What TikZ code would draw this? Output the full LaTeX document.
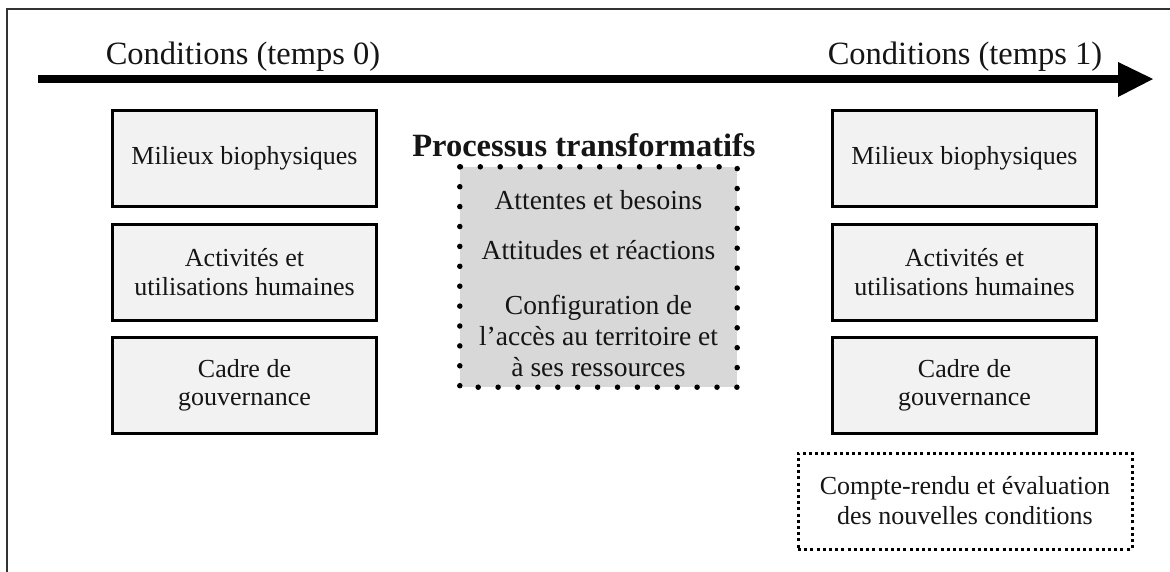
\documentclass[tikz,border=0pt]{standalone}
\usepackage{fontspec}
\setmainfont{Liberation Serif}
\begin{document}
\begin{tikzpicture}[x=1pt,y=-1pt,
  condbox/.style={draw=black,line width=3pt,fill=boxgray,minimum width=264pt,minimum height=96pt,inner sep=0pt,align=center,text=txt,font=\fontsize{26}{28.5}\selectfont},
  inner/.style={align=center,text=txt,font=\fontsize{27.5}{31}\selectfont},
  head/.style={text=txt,font=\fontsize{32.5}{30}\selectfont,anchor=base}]
\definecolor{boxgray}{HTML}{F2F2F2}
\definecolor{procgray}{HTML}{D8D8D8}
\definecolor{txt}{HTML}{151515}
\definecolor{frame}{HTML}{333333}
\useasboundingbox (0,0) rectangle (1170,571);
% frame (top and left edges)
\coordinate (fbl) at (7,575);
\coordinate (ftl) at (7,9);
\coordinate (ftr) at (1175,9);
\draw[frame,line width=1.6pt] (fbl) -- (ftl) -- (ftr);
% time arrow
\coordinate (as) at (38,79);
\coordinate (ab) at (1118,79);
\coordinate (at) at (1153,79);
\coordinate (ahu) at (1118,62);
\coordinate (ahd) at (1118,97);
\draw[black,line width=8pt] (as) -- (ab);
\fill[black] (ahu) -- (at) -- (ahd) -- cycle;
\node[head] (c0) at (243,64) {Conditions (temps 0)};
\node[head] (c1) at (965,64) {Conditions (temps 1)};
% left boxes
\node[condbox] (l1) at (244.5,158.5) {Milieux biophysiques};
\node[condbox] (l2) at (244.5,272) {Activités et\\utilisations humaines};
\node[condbox] (l3) at (244.5,385.5) {Cadre de\\gouvernance};
% right boxes
\node[condbox] (r1) at (964.5,158.5) {Milieux biophysiques};
\node[condbox] (r2) at (964.5,272) {Activités et\\utilisations humaines};
\node[condbox] (r3) at (964.5,385.5) {Cadre de\\gouvernance};
% process box
\node[font=\bfseries\fontsize{32.5}{28}\selectfont,text=txt] (pt) at (584,145) {Processus transformatifs};
\node[fill=procgray,minimum width=277pt,minimum height=220pt,inner sep=0pt] (pb) at (598.5,277) {};
\draw[black,line width=5.5pt,line cap=round,dash pattern=on 0pt off 19.9pt] (pb.north west) rectangle (pb.south east);
\node[inner] (p1) at (598.5,200) {Attentes et besoins};
\node[inner] (p2) at (598.5,250) {Attitudes et réactions};
\node[inner] (p3) at (598.5,336) {Configuration de\\l’accès au territoire et\\à ses ressources};
% report box
\node[draw=black,line width=3pt,dash pattern=on 3pt off 3.2pt,minimum width=334pt,minimum height=96pt,inner sep=0pt,align=center,text=txt,font=\fontsize{26}{30}\selectfont] (rep) at (965,501) {Compte-rendu et évaluation\\des nouvelles conditions};
\end{tikzpicture}
\end{document}
